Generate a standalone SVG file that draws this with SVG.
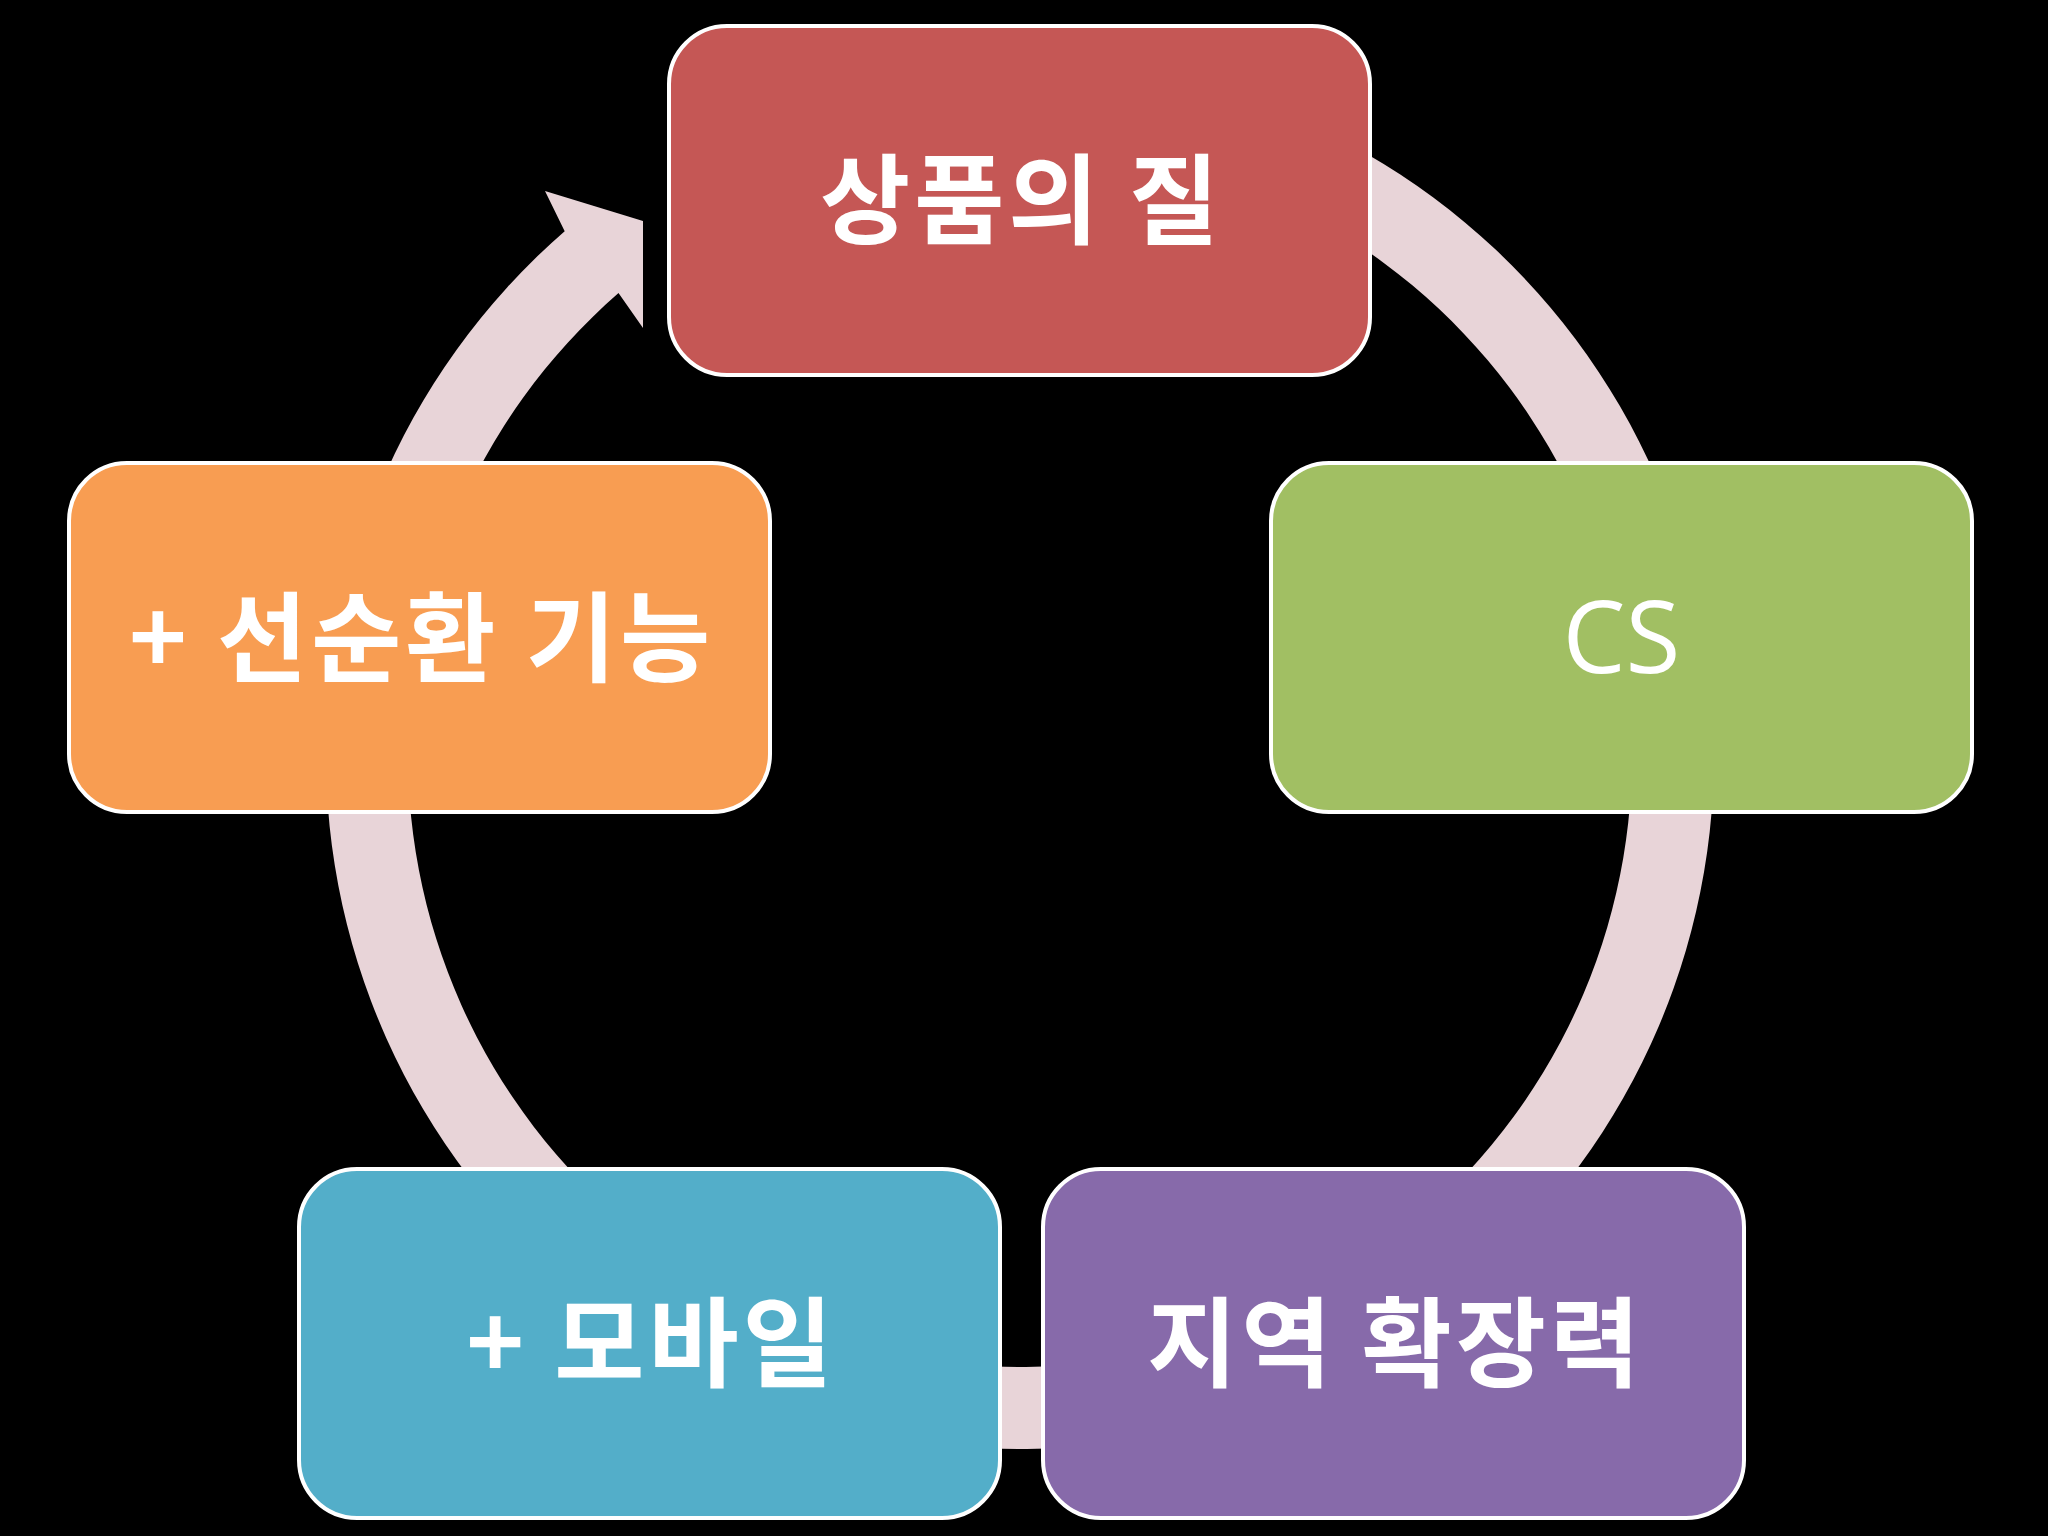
<svg xmlns="http://www.w3.org/2000/svg" width="2048" height="1536" viewBox="0 0 2048 1536">
<style>
.box{stroke:#FFFFFF;stroke-width:4}
.lbl{fill:#FFFFFF;font-family:"Noto Sans CJK KR","Noto Sans",sans-serif;font-weight:bold;font-size:98px;letter-spacing:4px;text-anchor:middle;dominant-baseline:central}
.lat{fill:#FFFFFF;font-family:"Open Sans","Noto Sans",sans-serif;font-weight:normal;font-size:100px;text-anchor:middle}
</style>
<rect x="0" y="0" width="2048" height="1536" fill="#000000"/>
<g id="connectors">
<path id="cycle-arrow" fill="#E8D4D8" d="M 1020 61 A 694 694 0 1 1 564.7 231.2 L 545 191 L 643 221 L 643 328 L 618.5 293.1 A 612 612 0 1 0 1020 143 Z"/>
</g>
<g id="node-quality">
<rect class="box" x="669" y="26" width="701" height="349" rx="58" ry="58" fill="#C55755"/>
<text class="lbl" x="1021.5" y="193">상품의 질</text>
</g>
<g id="node-cs">
<rect class="box" x="1271" y="463" width="701" height="349" rx="58" ry="58" fill="#A1BF63"/>
<text class="lat" x="1621.5" y="673">CS</text>
</g>
<g id="node-region">
<rect class="box" x="1043" y="1169" width="701" height="349" rx="58" ry="58" fill="#876AAA"/>
<text class="lbl" x="1395.5" y="1336">지역 확장력</text>
</g>
<g id="node-mobile">
<rect class="box" x="299" y="1169" width="701" height="349" rx="58" ry="58" fill="#53AEC9"/>
<text class="lbl" x="651.5" y="1336">+ 모바일</text>
</g>
<g id="node-cycle">
<rect class="box" x="69" y="463" width="701" height="349" rx="58" ry="58" fill="#F89D52"/>
<text class="lbl" x="421.5" y="631">+ 선순환 기능</text>
</g>
</svg>
